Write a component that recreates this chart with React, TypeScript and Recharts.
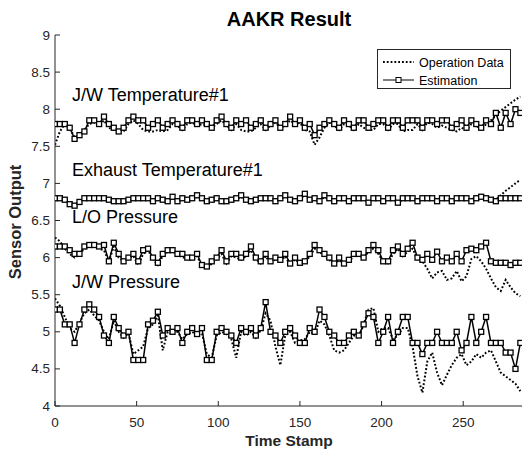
import { LineChart, Line, XAxis, YAxis } from 'recharts';

// ---------------------------------------------------------------------------
// Data (read off the reference, sampled every 3 time stamps)
// ---------------------------------------------------------------------------

const TIME = [
  0, 3, 6, 9, 12, 15, 18, 21, 24, 27, 30, 33, 36, 39, 42, 45, 48, 51, 54, 57,
  60, 63, 66, 69, 72, 75, 78, 81, 84, 87, 90, 93, 96, 99, 102, 105, 108, 111, 114, 117,
  120, 123, 126, 129, 132, 135, 138, 141, 144, 147, 150, 153, 156, 159, 162, 165, 168, 171, 174, 177,
  180, 183, 186, 189, 192, 195, 198, 201, 204, 207, 210, 213, 216, 219, 222, 225, 228, 231, 234, 237,
  240, 243, 246, 249, 252, 255, 258, 261, 264, 267, 270, 273, 276, 279, 282, 285,
];

const JW_TEMP_OP = [
  7.52, 7.7, 7.8, 7.75, 7.62, 7.65, 7.72, 7.8, 7.82, 7.78,
  7.85, 7.75, 7.72, 7.7, 7.7, 7.8, 7.85, 7.8, 7.72, 7.7,
  7.7, 7.72, 7.7, 7.72, 7.8, 7.78, 7.72, 7.8, 7.82, 7.78,
  7.8, 7.78, 7.75, 7.8, 7.85, 7.78, 7.72, 7.8, 7.72, 7.7,
  7.7, 7.75, 7.8, 7.72, 7.78, 7.82, 7.75, 7.78, 7.85, 7.8,
  7.82, 7.72, 7.7, 7.52, 7.62, 7.75, 7.82, 7.78, 7.72, 7.8,
  7.78, 7.72, 7.8, 7.75, 7.72, 7.72, 7.8, 7.8, 7.72, 7.8,
  7.8, 7.7, 7.72, 7.72, 7.8, 7.72, 7.82, 7.8, 7.75, 7.78,
  7.75, 7.72, 7.7, 7.75, 7.72, 7.8, 7.78, 7.72, 7.8, 7.85,
  7.92, 7.98, 8.03, 8.08, 8.13, 8.17,
];
const JW_TEMP_EST = [
  7.8, 7.8, 7.8, 7.75, 7.6, 7.65, 7.7, 7.85, 7.85, 7.8,
  7.9, 7.8, 7.75, 7.7, 7.75, 7.85, 7.9, 7.85, 7.85, 7.75,
  7.8, 7.85, 7.75, 7.8, 7.85, 7.8, 7.75, 7.85, 7.85, 7.8,
  7.85, 7.8, 7.75, 7.85, 7.9, 7.8, 7.75, 7.85, 7.8, 7.85,
  7.75, 7.8, 7.85, 7.75, 7.8, 7.85, 7.75, 7.8, 7.9, 7.8,
  7.85, 7.75, 7.8, 7.65, 7.75, 7.8, 7.85, 7.8, 7.75, 7.85,
  7.8, 7.75, 7.85, 7.85, 7.75, 7.8, 7.85, 7.85, 7.75, 7.85,
  7.85, 7.75, 7.85, 7.85, 7.85, 7.75, 7.85, 7.85, 7.8, 7.85,
  7.85, 7.75, 7.8, 7.85, 7.75, 7.85, 7.8, 7.75, 7.85, 7.8,
  7.95, 7.75, 7.95, 7.8, 8.0, 7.95,
];

const EXH_TEMP_OP = [
  6.8, 6.79, 6.77, 6.73, 6.71, 6.76, 6.79, 6.8, 6.79, 6.8,
  6.79, 6.77, 6.76, 6.75, 6.76, 6.78, 6.79, 6.8, 6.79, 6.79,
  6.75, 6.79, 6.77, 6.75, 6.81, 6.75, 6.79, 6.77, 6.79, 6.82,
  6.79, 6.75, 6.77, 6.79, 6.75, 6.74, 6.77, 6.79, 6.82, 6.77,
  6.75, 6.77, 6.79, 6.79, 6.8, 6.75, 6.79, 6.83, 6.77, 6.75,
  6.79, 6.84, 6.77, 6.79, 6.75, 6.82, 6.79, 6.75, 6.79, 6.79,
  6.75, 6.79, 6.8, 6.79, 6.73, 6.79, 6.8, 6.75, 6.79, 6.8,
  6.73, 6.79, 6.8, 6.79, 6.75, 6.8, 6.81, 6.8, 6.76, 6.81,
  6.8, 6.77, 6.81, 6.82, 6.81, 6.78, 6.82, 6.84, 6.8, 6.77,
  6.78, 6.84, 6.9, 6.95, 7.0, 7.05,
];
const EXH_TEMP_EST = [
  6.8, 6.8, 6.78, 6.72, 6.7, 6.75, 6.8, 6.8, 6.8, 6.8,
  6.8, 6.78, 6.76, 6.76, 6.76, 6.78, 6.8, 6.8, 6.8, 6.8,
  6.76, 6.8, 6.78, 6.76, 6.82, 6.76, 6.8, 6.78, 6.8, 6.84,
  6.8, 6.76, 6.78, 6.8, 6.76, 6.76, 6.78, 6.8, 6.84, 6.78,
  6.76, 6.78, 6.8, 6.8, 6.8, 6.76, 6.8, 6.84, 6.78, 6.76,
  6.8, 6.86, 6.78, 6.8, 6.76, 6.84, 6.8, 6.76, 6.8, 6.8,
  6.76, 6.8, 6.8, 6.8, 6.74, 6.8, 6.8, 6.76, 6.8, 6.8,
  6.74, 6.8, 6.8, 6.8, 6.76, 6.8, 6.8, 6.8, 6.76, 6.8,
  6.8, 6.76, 6.8, 6.8, 6.8, 6.76, 6.8, 6.82, 6.8, 6.78,
  6.76, 6.8, 6.8, 6.8, 6.8, 6.8,
];

const LO_PRESS_OP = [
  6.27, 6.22, 6.12, 6.05, 6.0, 6.05, 6.12, 6.15, 6.18, 6.12,
  6.1, 5.95, 6.15, 6.0, 5.95, 6.0, 6.02, 5.9, 6.05, 6.1,
  5.98, 5.9, 6.02, 6.08, 6.08, 6.05, 6.0, 6.0, 5.97, 6.02,
  5.88, 5.85, 5.92, 5.98, 6.05, 5.92, 6.02, 6.0, 5.97, 6.02,
  6.1, 5.98, 5.92, 6.02, 5.92, 5.98, 5.95, 6.02, 5.9, 5.98,
  5.92, 5.93, 6.02, 6.12, 6.08, 6.02, 5.97, 5.9, 5.97, 5.9,
  5.95, 6.02, 6.03, 6.0, 6.08, 6.12, 6.05, 5.95, 5.92, 6.05,
  6.12, 6.02, 6.08, 6.12, 5.98, 5.95, 5.85, 5.72, 5.8, 5.82,
  5.7, 5.72, 5.82, 5.68, 5.75, 5.98, 6.02, 5.95, 5.85, 5.72,
  5.6, 5.55, 5.7, 5.6, 5.52, 5.48,
];
const LO_PRESS_EST = [
  6.15, 6.15, 6.15, 6.1, 6.05, 6.05, 6.15, 6.17, 6.17, 6.15,
  6.17, 5.95, 6.2, 6.05, 5.95, 6.0, 6.05, 5.95, 6.1, 6.12,
  6.0, 5.93, 6.05, 6.1, 6.1, 6.05, 6.05, 6.0, 6.0, 6.05,
  5.9, 5.88, 5.95, 6.0, 6.1, 5.95, 6.05, 6.05, 6.0, 6.05,
  6.15, 6.0, 5.95, 6.05, 5.95, 6.0, 5.97, 6.05, 5.92, 6.0,
  5.93, 5.95, 6.05, 6.17, 6.1, 6.05, 6.0, 5.92, 6.0, 5.92,
  5.97, 6.05, 6.05, 6.0, 6.1, 6.17, 6.1, 5.95, 5.95, 6.1,
  6.15, 6.05, 6.12, 6.2, 6.0, 5.97, 6.05, 5.97, 6.08, 5.95,
  6.0, 5.95, 6.05, 5.95, 6.1, 6.12, 6.1, 6.15, 6.2, 5.95,
  5.93, 5.93, 5.93, 5.9, 5.93, 5.93,
];

const JW_PRESS_OP = [
  5.45, 5.35, 5.2, 5.05, 5.0, 5.12, 5.25, 5.3, 5.22, 5.15,
  5.0, 4.9, 5.15, 5.0, 4.92, 4.98, 4.7, 4.75, 4.8, 5.05,
  5.1, 5.22, 4.75, 5.0, 4.97, 5.0, 4.9, 4.97, 5.0, 4.95,
  4.98, 4.7, 4.65, 4.95, 5.0, 4.97, 4.9, 4.65, 5.0, 4.95,
  5.0, 4.92, 5.02, 5.25, 5.15, 4.8, 4.55, 4.95, 5.0, 4.85,
  4.88, 4.9, 5.0, 4.97, 5.15, 5.1, 4.95, 4.75, 4.72, 4.75,
  4.85, 4.95, 4.92, 5.1, 5.3, 5.32, 5.0, 5.05, 5.05, 4.9,
  4.95, 5.05, 5.05, 4.8, 4.4, 4.18, 4.6, 4.72, 4.45, 4.28,
  4.42, 4.55, 4.65, 4.7, 4.55, 4.6, 4.7, 4.65, 4.72, 4.75,
  4.6, 4.45, 4.4, 4.35, 4.3, 4.2,
];
const JW_PRESS_EST = [
  5.3, 5.3, 5.1, 5.1, 4.85, 5.1, 5.3, 5.37, 5.3, 5.2,
  4.95, 4.85, 5.2, 5.05, 4.95, 5.0, 4.62, 4.62, 4.62, 5.1,
  5.15, 5.27, 4.95, 5.05, 5.0, 5.05, 4.85, 5.0, 5.05, 4.97,
  5.05, 4.62, 4.62, 5.0, 5.05, 5.0, 4.95, 4.85, 5.05, 5.0,
  5.05, 4.95, 5.05, 5.4, 5.0, 4.95, 4.85, 5.0, 5.05, 4.95,
  4.85, 4.85, 5.05, 5.0, 5.3, 5.2, 5.0, 4.95, 4.85, 4.85,
  4.95, 5.0, 4.95, 5.1, 5.25, 5.2, 4.85, 5.0, 5.2, 4.85,
  5.0, 5.2, 5.2, 4.85, 4.85, 4.7, 4.85, 4.85, 5.0, 4.85,
  4.85, 4.85, 5.0, 4.75, 4.85, 5.2, 4.85, 5.0, 5.2, 4.85,
  4.85, 4.85, 4.72, 4.72, 4.5, 4.85,
];

const X_TICKS = [0, 50, 100, 150, 200, 250];
const Y_TICKS = [4, 4.5, 5, 5.5, 6, 6.5, 7, 7.5, 8, 8.5, 9];

const SERIES_LABELS = [
  { text: 'J/W Temperature#1', top: 86 },
  { text: 'Exhaust Temperature#1', top: 161 },
  { text: 'L/O Pressure', top: 208 },
  { text: 'J/W Pressure', top: 273 },
];

// ---------------------------------------------------------------------------
// Styling helpers
// ---------------------------------------------------------------------------

const FONT = "'Liberation Sans', Arial, Helvetica, sans-serif";
const AXIS = '#262626';
const TICK_LEN = 5;

const data = TIME.map((t, i) => ({
  t,
  jwTempOp: JW_TEMP_OP[i],
  jwTempEst: JW_TEMP_EST[i],
  exhOp: EXH_TEMP_OP[i],
  exhEst: EXH_TEMP_EST[i],
  loOp: LO_PRESS_OP[i],
  loEst: LO_PRESS_EST[i],
  jwPressOp: JW_PRESS_OP[i],
  jwPressEst: JW_PRESS_EST[i],
}));

function BottomTick({ x, y, payload }: any) {
  return (
    <g>
      <line x1={x} x2={x} y1={y} y2={y - TICK_LEN} stroke={AXIS} strokeWidth={1} />
      <text x={x} y={y + 21} textAnchor="middle" fontSize={13.5} fill={AXIS} fontFamily={FONT}>
        {payload.value}
      </text>
    </g>
  );
}

function TopTick({ x, y }: any) {
  return <line x1={x} x2={x} y1={y} y2={y + TICK_LEN} stroke={AXIS} strokeWidth={1} />;
}

function LeftTick({ x, y, payload }: any) {
  return (
    <g>
      <line x1={x} x2={x + TICK_LEN} y1={y} y2={y} stroke={AXIS} strokeWidth={1} />
      <text x={x - 5} y={y + 4.5} textAnchor="end" fontSize={13.5} fill={AXIS} fontFamily={FONT}>
        {payload.value}
      </text>
    </g>
  );
}

function RightTick({ x, y }: any) {
  return <line x1={x} x2={x - TICK_LEN} y1={y} y2={y} stroke={AXIS} strokeWidth={1} />;
}

function SquareDot({ cx, cy, index }: any) {
  if (cx == null || cy == null) return <g key={index} />;
  return (
    <rect
      key={index}
      x={cx - 2.5}
      y={cy - 2.5}
      width={5}
      height={5}
      fill="#fff"
      stroke="#000"
      strokeWidth={1.3}
    />
  );
}

const OP_KEYS = ['jwTempOp', 'exhOp', 'loOp', 'jwPressOp'];
const EST_KEYS = ['jwTempEst', 'exhEst', 'loEst', 'jwPressEst'];

export default function App() {
  return (
    <div style={{ position: 'absolute', left: 0, top: 0, width: 523, height: 452, background: '#fff', fontFamily: FONT }}>
      <LineChart width={523} height={452} data={data} margin={{ top: 35, right: 1, bottom: 0, left: 0 }}>
        <XAxis
          xAxisId="b"
          dataKey="t"
          type="number"
          domain={[0, 286]}
          ticks={X_TICKS}
          allowDataOverflow
          height={46}
          tickSize={0}
          tickMargin={0}
          tickLine={false}
          stroke={AXIS}
          tick={<BottomTick />}
        />
        <XAxis
          xAxisId="t"
          orientation="top"
          dataKey="t"
          type="number"
          domain={[0, 286]}
          ticks={X_TICKS}
          allowDataOverflow
          height={0}
          tickSize={0}
          tickMargin={0}
          tickLine={false}
          stroke={AXIS}
          tick={<TopTick />}
        />
        <YAxis
          yAxisId="l"
          type="number"
          domain={[4, 9]}
          ticks={Y_TICKS}
          allowDataOverflow
          width={55}
          tickSize={0}
          tickMargin={0}
          tickLine={false}
          stroke={AXIS}
          tick={<LeftTick />}
        />
        <YAxis
          yAxisId="r"
          orientation="right"
          type="number"
          domain={[4, 9]}
          ticks={Y_TICKS}
          allowDataOverflow
          width={0}
          tickSize={0}
          tickMargin={0}
          tickLine={false}
          stroke={AXIS}
          tick={<RightTick />}
        />
        {OP_KEYS.map((k) => (
          <Line
            key={k}
            xAxisId="b"
            yAxisId="l"
            dataKey={k}
            type="linear"
            stroke="#000"
            strokeWidth={2}
            strokeDasharray="1.8 2"
            dot={false}
            activeDot={false}
            isAnimationActive={false}
          />
        ))}
        {EST_KEYS.map((k) => (
          <Line
            key={k}
            xAxisId="b"
            yAxisId="l"
            dataKey={k}
            type="linear"
            stroke="#000"
            strokeWidth={1.5}
            dot={<SquareDot />}
            activeDot={false}
            isAnimationActive={false}
          />
        ))}
      </LineChart>

      {/* title + axis labels */}
      <div style={{ position: 'absolute', left: 0, width: 578, top: 9, textAlign: 'center', fontSize: 20, fontWeight: 'bold', lineHeight: 1, color: '#000' }}>
        AAKR Result
      </div>
      <div style={{ position: 'absolute', left: 0, width: 578, top: 433, textAlign: 'center', fontSize: 15.5, fontWeight: 'bold', lineHeight: 1, color: AXIS }}>
        Time Stamp
      </div>
      <div
        style={{
          position: 'absolute',
          left: 15,
          top: 222,
          transform: 'translate(-50%, -50%) rotate(-90deg)',
          whiteSpace: 'nowrap',
          fontSize: 16.5,
          fontWeight: 'bold',
          lineHeight: 1,
          color: AXIS,
        }}
      >
        Sensor Output
      </div>

      {/* series annotations */}
      {SERIES_LABELS.map((s) => (
        <div key={s.text} style={{ position: 'absolute', left: 72, top: s.top, fontSize: 18, lineHeight: 1, color: '#000', whiteSpace: 'nowrap' }}>
          {s.text}
        </div>
      ))}

      {/* legend */}
      <div
        style={{
          position: 'absolute',
          left: 377,
          top: 49,
          width: 132,
          height: 38,
          border: `1px solid ${AXIS}`,
          background: '#fff',
          color: '#000',
        }}
      >
        <svg width={132} height={38} style={{ position: 'absolute', left: 0, top: 0 }}>
          <line x1={5} x2={36} y1={12} y2={12} stroke="#000" strokeWidth={2} strokeDasharray="1.8 2" />
          <line x1={5} x2={36} y1={30} y2={30} stroke="#000" strokeWidth={1} />
          <rect x={18} y={27.5} width={5} height={5} fill="#fff" stroke="#000" strokeWidth={1} />
          <text x={41} y={16.5} fontSize={12.5} fontFamily={FONT} fill="#000">Operation Data</text>
          <text x={41} y={34.5} fontSize={12.5} fontFamily={FONT} fill="#000">Estimation</text>
        </svg>
      </div>
    </div>
  );
}
